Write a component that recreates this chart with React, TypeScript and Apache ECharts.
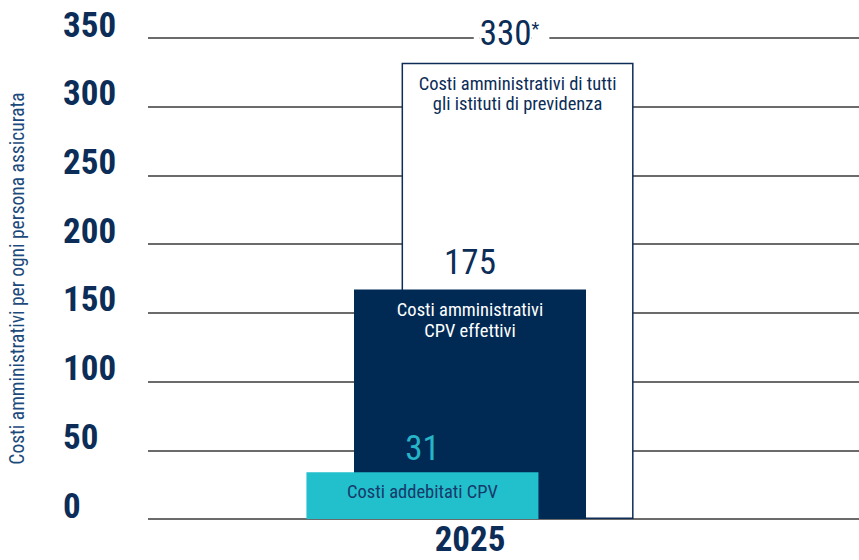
import React, { useEffect, useRef } from "react";
import * as echarts from "echarts";

const categories = ["2025"];
const seriesNames = [
  "Costi addebitati CPV",
  "Costi amministrativi CPV effettivi",
  "Costi amministrativi di tutti gli istituti di previdenza",
];
// bar heights as drawn in the picture
const barHeights = [34, 167, 332];
// value labels printed above the bars
const valueLabels = ["31", "175", "330"];
const footnoteMarks = ["", "", "*"];
const descriptions = [
  ["Costi addebitati CPV"],
  ["Costi amministrativi", "CPV effettivi"],
  ["Costi amministrativi di tutti", "gli istituti di previdenza"],
];
const yMin = 0;
const yMax = 350;
const yInterval = 50;
const yAxisTitle = "Costi amministrativi per ogni persona assicurata";

const FONT =
  "'Noto Sans ExtraCondensed', 'Noto Sans Condensed', 'Roboto Condensed', 'Liberation Sans Narrow', 'DejaVu Sans Condensed', sans-serif";
const NAVY = "#002a54";
const TEXT_NAVY = "#0b2d57";
const TEAL = "#22bfcd";
const TEAL_TEXT = "#26b4c6";

export default function App() {
  const ref = useRef<HTMLDivElement>(null);
  useEffect(() => {
    document.body.style.margin = "0";
    if (!ref.current) return;
    const chart = echarts.init(ref.current, undefined, { renderer: "svg" });

    const fills = [TEAL, NAVY, "#ffffff"];
    const valueColors = [TEAL_TEXT, TEXT_NAVY, TEXT_NAVY];
    const descColors = ["#163a6a", "#ffffff", TEXT_NAVY];
    const spacers = [19, 22, 21];
    const firstLineH = [30, 30, 40];
    const descLH = [20, 21, 20];
    const offsets = [-39, -41.5, -49.7];
    const zs = [5, 4, 3];

    const series = seriesNames.map((name, i) => {
      const first =
        footnoteMarks[i] !== ""
          ? `{pl| }{v|${valueLabels[i]}}{sup|${footnoteMarks[i]}}{pr| }`
          : `{v|${valueLabels[i]}}`;
      const lines = descriptions[i].map((d) => `{d|${d}}`).join("\n");
      return {
        name,
        type: "bar",
        xAxisIndex: 1,
        yAxisIndex: 1,
        barWidth: 232,
        barGap: "-79.5%",
        z: zs[i],
        data: [barHeights[i]],
        itemStyle:
          i === 2
            ? { color: "#ffffff", borderColor: "#0d2d58", borderWidth: 1.5 }
            : { color: fills[i] },
        label: {
          show: true,
          position: "insideTop",
          distance: 0,
          offset: [0, offsets[i]],
          formatter: `${first}\n{s| }\n${lines}`,
          rich: {
            v: {
              fontFamily: FONT,
              fontSize: 35,
              lineHeight: firstLineH[i],
              color: valueColors[i],
              backgroundColor: i === 2 ? "#ffffff" : "transparent",
            },
            pl: { width: 6, lineHeight: firstLineH[i], backgroundColor: "#ffffff", fontSize: 35, fontFamily: FONT },
            sup: {
              fontFamily: FONT,
              fontSize: 18,
              color: valueColors[i],
              lineHeight: firstLineH[i],
              padding: [0, 10, 10, 0],
              backgroundColor: "#ffffff",
            },
            pr: { width: 12, lineHeight: firstLineH[i], fontSize: 35, fontFamily: FONT },
            s: { fontSize: 2, lineHeight: spacers[i] },
            d: {
              fontFamily: FONT,
              fontSize: 18.5,
              lineHeight: descLH[i],
              color: descColors[i],
            },
          },
        },
      };
    });

    chart.setOption({
      animation: false,
      grid: [
        { left: 148, right: 0, top: 38, bottom: 41, outerBoundsMode: "none", containLabel: false },
        { left: 148, right: 67, top: 38, bottom: 41, outerBoundsMode: "none", containLabel: false },
      ],
      xAxis: [
        { type: "category", gridIndex: 0, data: categories, show: false },
        {
          type: "category",
          gridIndex: 1,
          data: categories,
          axisLine: { show: false },
          axisTick: { show: false },
          axisLabel: {
            margin: 8,
            fontFamily: FONT,
            fontWeight: "bold",
            fontSize: 35,
            lineHeight: 24,
            color: TEXT_NAVY,
          },
        },
      ],
      yAxis: [
        {
          type: "value",
          gridIndex: 0,
          min: yMin,
          max: yMax,
          interval: yInterval,
          name: yAxisTitle,
          nameLocation: "middle",
          nameRotate: 90,
          nameGap: 121,
          nameTextStyle: { fontFamily: FONT, fontSize: 19.5, color: "#1c4a7c" },
          axisLine: { show: false },
          axisTick: { show: false },
          axisLabel: {
            align: "left",
            margin: 85,
            verticalAlign: "bottom",
            lineHeight: 26,
            fontFamily: FONT,
            fontWeight: "bold",
            fontSize: 35,
            color: TEXT_NAVY,
          },
          splitLine: { show: true, lineStyle: { color: "#3a3a3a", width: 1.5 } },
        },
        { type: "value", gridIndex: 1, min: yMin, max: yMax, interval: yInterval, show: false, splitLine: { show: false } },
      ],
      series,
    });
    return () => chart.dispose();
  }, []);
  return <div ref={ref} style={{ width: 859, height: 560 }} />;
}
